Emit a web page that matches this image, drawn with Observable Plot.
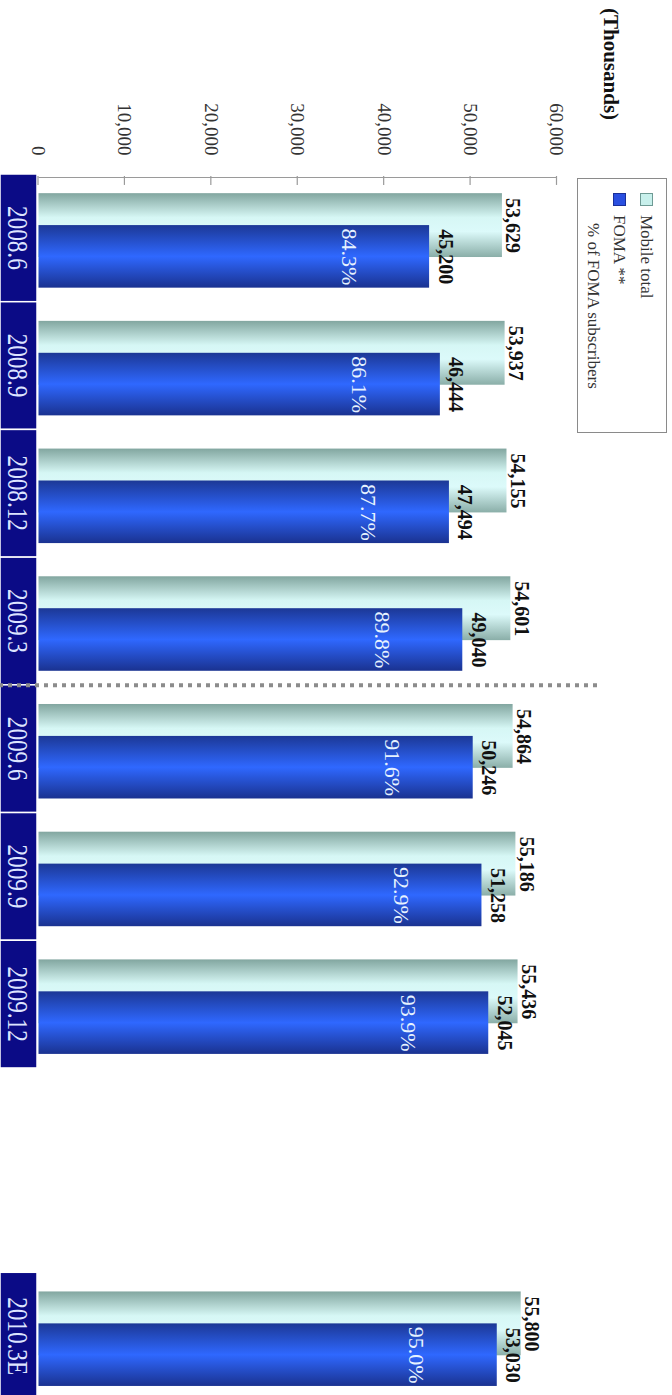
<!DOCTYPE html>
<html>
<head>
<meta charset="utf-8">
<script src="https://cdn.jsdelivr.net/npm/d3@7"></script>
<script src="https://cdn.jsdelivr.net/npm/@observablehq/plot@0.6"></script>
<style>
  html, body { margin: 0; padding: 0; background: #fff; }
  #wrap { position: relative; width: 672px; height: 1395px; overflow: hidden; background: #fff; }
  #rot { position: absolute; left: 0; top: 0; width: 1395px; height: 672px;
         transform-origin: 0 0; transform: translate(672px, 0) rotate(90deg);
         font-family: "Liberation Serif", "Times New Roman", serif; }
  #chart svg { position: absolute; left: 0; top: 0; }
  #unit { position: absolute; left: 8px; top: 49px; font-weight: bold; font-size: 21px; color: #111; white-space: nowrap; line-height: 24px; }
  #legend { position: absolute; left: 178px; top: 5px; width: 253px; height: 88px;
            border: 1.5px solid #8a8a8a; background: #fff; font-size: 17px; color: #333; }
  .row { position: absolute; left: 0; height: 20px; display: flex; align-items: center; white-space: nowrap; }
  .sw { width: 13px; height: 13px; margin: 0 9px 0 14px; box-sizing: border-box; flex: none; }
</style>
</head>
<body>
<div id="wrap">
  <div id="rot">
    <div id="chart"></div>
    <div id="unit"></div>
    <div id="legend"></div>
  </div>
</div>
<script>
// ---------- data ----------
const periods      = ["2008.6", "2008.9", "2008.12", "2009.3", "2009.6", "2009.9", "2009.12", "2010.3E"];
const mobileTotal  = [53629, 53937, 54155, 54601, 54864, 55186, 55436, 55800];
const fomaSubs     = [45200, 46444, 47494, 49040, 50246, 51258, 52045, 53030];
const fomaShare    = [84.3, 86.1, 87.7, 89.8, 91.6, 92.9, 93.9, 95.0];
const yTicks       = [0, 10000, 20000, 30000, 40000, 50000, 60000];
const legendLabels = ["Mobile total", "FOMA **", "% of FOMA subscribers"];
const unitLabel    = "(Thousands)";
const dividerAfter = "2009.3";

// ---------- layout ----------
const forecastGap = 1.6;               // blank room before the estimate column
const xDom = [-0.5, 9.1];
const xRange = [174, 1400];
const data = periods.map((p, i) => ({
  period: p, mobile: mobileTotal[i], foma: fomaSubs[i], share: fomaShare[i],
  slot: i + (p.endsWith("E") ? forecastGap : 0)
}));
const divIdx = periods.indexOf(dividerAfter);
const dividerX = (data[divIdx].slot + data[divIdx + 1].slot) / 2;
const fmt = d3.format(",");

const chart = Plot.plot({
  width: 1395,
  height: 672,
  marginTop: 115,
  marginBottom: 38.5,
  marginLeft: 177,
  marginRight: 0,
  x: { type: "linear", domain: xDom, range: xRange, axis: null },
  y: { domain: [yTicks[0], yTicks[yTicks.length - 1]], ticks: yTicks, tickFormat: d => fmt(d), tickSize: 0, tickPadding: 22, label: null },
  style: { fontFamily: '"Liberation Serif", "Times New Roman", serif', fontSize: "19px", color: "#333", background: "transparent", overflow: "visible" },
  marks: [
    // category boxes
    Plot.rect(data, { x1: d => d.slot - 0.5, x2: d => d.slot + 0.5, y1: 0, y2: 0,
      insetTop: 1.5, insetBottom: -38.5, fill: "#0b0b86", stroke: "#fff", strokeWidth: 1.5 }),
    Plot.text(data, { x: "slot", y: 0, text: "period", dy: 20, fill: "#dde4ff", fontSize: 29 }),
    // value axis line + inward ticks
    Plot.ruleX([xDom[0]], { dx: 3, y1: yTicks[0], y2: yTicks[yTicks.length - 1], stroke: "#9a9a9a", strokeWidth: 1.2 }),
    Plot.ruleY(yTicks, { y: d => d, x1: xDom[0], x2: xDom[0] + 0.07, dx: 2, stroke: "#9a9a9a", strokeWidth: 1.2 }),
    // bars
    Plot.rect(data, { x1: d => d.slot - 0.35, x2: d => d.slot + 0.15, y1: 0, y2: "mobile", fill: "url(#gMobile)" }),
    Plot.rect(data, { x1: d => d.slot - 0.10, x2: d => d.slot + 0.39, y1: 0, y2: "foma", fill: "url(#gFoma)" }),
    // fiscal-year divider
    Plot.ruleX([dividerX], { x: d => d, insetTop: -40, insetBottom: -38.5, stroke: "#8c8c8c", strokeWidth: 4, strokeDasharray: "4,5" }),
    // labels
    Plot.text(data, { x: d => d.slot - 0.1, y: "mobile", text: d => fmt(d.mobile), dy: -5, lineAnchor: "bottom",
      fontWeight: "bold", fontSize: 20, fill: "#111" }),
    Plot.text(data, { x: d => d.slot + 0.145, y: "foma", text: d => fmt(d.foma), dy: -10, lineAnchor: "bottom",
      fontWeight: "bold", fontSize: 20, fill: "#111" }),
    Plot.text(data, { x: d => d.slot + 0.145, y: "foma", text: d => d.share.toFixed(1) + "%", dy: 80,
      fontSize: 22, fill: "#e6f2ff" })
  ]
});

chart.insertAdjacentHTML("afterbegin", `
<defs>
  <linearGradient id="gMobile" x1="0" y1="0" x2="1" y2="0">
    <stop offset="0" stop-color="#82a6a0"/>
    <stop offset="0.38" stop-color="#d6f7f5"/>
    <stop offset="0.6" stop-color="#dcfafa"/>
    <stop offset="1" stop-color="#8aaea8"/>
  </linearGradient>
  <linearGradient id="gFoma" x1="0" y1="0" x2="1" y2="0">
    <stop offset="0" stop-color="#1c3896"/>
    <stop offset="0.5" stop-color="#2f68ff"/>
    <stop offset="1" stop-color="#1a3290"/>
  </linearGradient>
</defs>`);

// condensed look of the period labels: reposition them through the plot's own scales
const sx = chart.scale("x"), sy = chart.scale("y");
const slotOf = new Map(data.map(d => [d.period, d.slot]));
chart.querySelectorAll("text").forEach(t => {
  const key = t.textContent.trim();
  if (!slotOf.has(key)) return;
  const px = sx.apply(slotOf.get(key));
  const py = sy.apply(0) + 20;
  const g = t.parentNode;
  if (g && g.tagName.toLowerCase() === "g") g.removeAttribute("transform");
  t.removeAttribute("x");
  t.removeAttribute("y");
  t.setAttribute("transform", "translate(" + px + "," + py + ") scale(0.8,1)");
  t.setAttribute("text-anchor", "middle");
  t.setAttribute("dy", "0.35em");
});
document.getElementById("chart").appendChild(chart);

// unit label
document.getElementById("unit").textContent = unitLabel;

// legend
const legend = document.getElementById("legend");
const swatches = [
  { fill: "#c8f0ec", border: "#6e9a94" },
  { fill: "#2a4fe0", border: "#1a2f99" },
  null
];
const rowTops = [9.5, 36.5, 62.5];
legendLabels.forEach((lab, i) => {
  const row = document.createElement("div");
  row.className = "row";
  row.style.top = rowTops[i] + "px";
  const sw = document.createElement("span");
  sw.className = "sw";
  if (swatches[i]) { sw.style.background = swatches[i].fill; sw.style.border = "1.5px solid " + swatches[i].border; }
  else { sw.style.marginRight = "17px"; }
  row.appendChild(sw);
  const t = document.createElement("span");
  t.textContent = lab;
  row.appendChild(t);
  legend.appendChild(row);
});
</script>
</body>
</html>
